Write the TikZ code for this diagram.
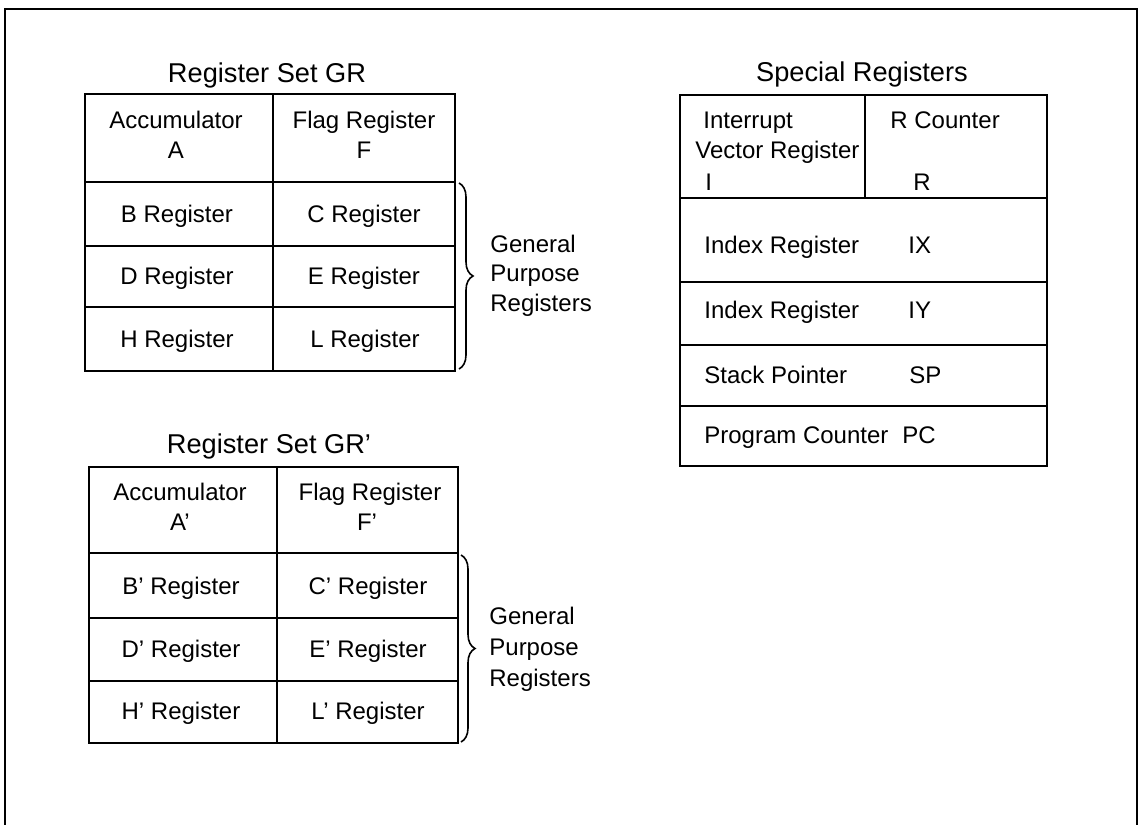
\documentclass[tikz,border=0pt]{standalone}
\usepackage{fontspec}
\setmainfont{Liberation Sans}
\usetikzlibrary{decorations.pathreplacing}
\begin{document}
\begin{tikzpicture}[x=0.5pt,y=-0.5pt,
  gridline/.style={line width=1pt},
  frameline/.style={line width=1.1pt},
  celltext/.style={font=\fontsize{12}{14}\selectfont, inner sep=0pt, anchor=base},
  lefttext/.style={font=\fontsize{12}{14}\selectfont, inner sep=0pt, anchor=base west},
  titletext/.style={font=\fontsize{13.6}{16}\selectfont, inner sep=0pt, anchor=base},
  bracestyle/.style={line width=0.8pt, decorate, decoration={brace, amplitude=7pt}}]
\useasboundingbox (0,0) rectangle (1142,825);
% outer frame (open at the bottom)
\draw[frameline] (5,825) -- (5,9) -- (1137,9) -- (1137,825);

% ---------------- Register Set GR ----------------
\node[titletext] (t1) at (267,82) {Register Set GR};
\draw[gridline] (85,94) rectangle (455,371);
\draw[gridline] (273,94) -- (273,371);
\draw[gridline] (85,182) -- (455,182);
\draw[gridline] (85,246) -- (455,246);
\draw[gridline] (85,307) -- (455,307);
\node[celltext] (accA1) at (176,128) {Accumulator};
\node[celltext] (accA2) at (176,158) {A};
\node[celltext] (flgF1) at (364,128) {Flag Register};
\node[celltext] (flgF2) at (364,158) {F};
\node[celltext] (regB) at (177,222) {B Register};
\node[celltext] (regC) at (364,222) {C Register};
\node[celltext] (regD) at (177,284) {D Register};
\node[celltext] (regE) at (364,284) {E Register};
\node[celltext] (regH) at (177,347) {H Register};
\node[celltext] (regL) at (365,347) {L Register};
\coordinate (b1top) at (459,183);
\coordinate (b1bot) at (459,369);
\draw[bracestyle] (b1top) -- (b1bot);
\node[lefttext] (g1a) at (490,252) {General};
\node[lefttext] (g1b) at (490,281) {Purpose};
\node[lefttext] (g1c) at (490,311) {Registers};

% ---------------- Register Set GR' ----------------
\node[titletext] (t2) at (269,453) {Register Set GR’};
\draw[gridline] (89,467) rectangle (458,743);
\draw[gridline] (277,467) -- (277,743);
\draw[gridline] (89,553) -- (458,553);
\draw[gridline] (89,618) -- (458,618);
\draw[gridline] (89,681) -- (458,681);
\node[celltext] (accB1) at (180,500) {Accumulator};
\node[celltext] (accB2) at (180,530) {A’};
\node[celltext] (flgG1) at (370,500) {Flag Register};
\node[celltext] (flgG2) at (367,530) {F’};
\node[celltext] (regB2) at (181,594) {B’ Register};
\node[celltext] (regC2) at (368,594) {C’ Register};
\node[celltext] (regD2) at (181,657) {D’ Register};
\node[celltext] (regE2) at (368,657) {E’ Register};
\node[celltext] (regH2) at (181,719) {H’ Register};
\node[celltext] (regL2) at (368,719) {L’ Register};
\coordinate (b2top) at (461,555);
\coordinate (b2bot) at (461,742);
\draw[bracestyle] (b2top) -- (b2bot);
\node[lefttext] (g2a) at (489,624) {General};
\node[lefttext] (g2b) at (489,655) {Purpose};
\node[lefttext] (g2c) at (489,686) {Registers};

% ---------------- Special Registers ----------------
\node[titletext] (t3) at (862,81) {Special Registers};
\draw[gridline] (680,95) rectangle (1047,466);
\draw[gridline] (865,95) -- (865,198);
\draw[gridline] (680,198) -- (1047,198);
\draw[gridline] (680,282) -- (1047,282);
\draw[gridline] (680,345) -- (1047,345);
\draw[gridline] (680,406) -- (1047,406);
\node[lefttext] (int1) at (703,128) {Interrupt};
\node[lefttext] (int2) at (695,158) {Vector Register};
\node[lefttext] (int3) at (705,190) {I};
\node[lefttext] (rc1) at (890,128) {R Counter};
\node[lefttext] (rc2) at (913,190) {R};
\node[lefttext] (ix1) at (704,253) {Index Register};
\node[lefttext] (ix2) at (908,253) {IX};
\node[lefttext] (iy1) at (704,318) {Index Register};
\node[lefttext] (iy2) at (908,318) {IY};
\node[lefttext] (sp1) at (704,383) {Stack Pointer};
\node[lefttext] (sp2) at (909,383) {SP};
\node[lefttext] (pc1) at (704,443) {Program Counter};
\node[lefttext] (pc2) at (902,443) {PC};
\end{tikzpicture}
\end{document}
